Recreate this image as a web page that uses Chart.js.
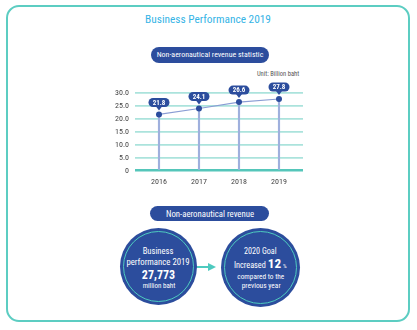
<!DOCTYPE html>
<html><head><meta charset="utf-8">
<script src="https://cdn.jsdelivr.net/npm/chart.js@4/dist/chart.umd.min.js"></script>
<style>
html,body{margin:0;padding:0;width:417px;height:330px;overflow:hidden;background:#fff;font-family:"Roboto Condensed","Roboto",sans-serif;}
.abs{position:absolute;}
#frame{left:6px;top:5px;width:404px;height:317px;border:2px solid #5ccdc2;border-radius:13px;box-sizing:border-box;}
.pill{background:#2c4d9d;border-radius:9px;}
.circle{background:#2c4d9d;border-radius:50%;}
.ring{position:absolute;left:3px;top:3px;right:3px;bottom:3px;border:1.5px solid #4ecabf;border-radius:50%;}
.t{position:absolute;white-space:nowrap;transform:translate(-50%,-50%);line-height:1;}
.w{color:#fff;}
canvas{position:absolute;left:0;top:0;}
</style>
</head><body>
<div id="frame" class="abs"></div>
<div class="abs pill" style="left:151px;top:47px;width:118px;height:16px;"></div>
<div class="abs pill" style="left:150px;top:206px;width:119px;height:15px;"></div>

<div class="abs" style="left:196px;top:266px;width:14px;height:2px;background:#4ecabf;"></div>
<div class="abs" style="left:208px;top:263px;width:0;height:0;border-top:4px solid transparent;border-bottom:4px solid transparent;border-left:8px solid #4ecabf;"></div>

<div class="abs circle" style="left:120px;top:228px;width:77px;height:77px;"><div class="ring"></div></div>
<div class="abs circle" style="left:221px;top:228px;width:79px;height:79px;"><div class="ring"></div></div>

<div class="t" data-w="126" style="left:208px;top:20px;font-size:12px;color:#36b4e6;">Business Performance 2019</div>
<div class="t w" data-w="106.6" style="left:210px;top:55px;font-size:9px;">Non-aeronautical revenue statistic</div>
<div class="t" data-w="42.3" style="left:278px;top:74px;font-size:7px;color:#555;">Unit: Billion baht</div>
<div class="t w" data-w="88" style="left:210px;top:213.5px;font-size:9px;">Non-aeronautical revenue</div>

<div class="t w" data-w="30.7" style="left:158px;top:251px;font-size:9px;">Business</div>
<div class="t w" data-w="63.3" style="left:158px;top:261.7px;font-size:9px;">performance 2019</div>
<div class="t w" data-w="33.3" style="left:158.5px;top:275px;font-size:15px;font-weight:bold;">27,773</div>
<div class="t w" data-w="32.7" style="left:159px;top:286px;font-size:7px;">million baht</div>

<div class="t w" data-w="32.7" style="left:260.3px;top:251px;font-size:9px;">2020 Goal</div>
<div class="t w" data-w="52.7" style="left:260.3px;top:264.3px;font-size:9px;">Increased <b style="font-size:1.6em;">12</b> <span style="font-size:0.7em;">%</span></div>
<div class="t w" data-w="47" style="left:260.8px;top:277.3px;font-size:7px;">compared to the</div>
<div class="t w" data-w="39" style="left:261.2px;top:285.5px;font-size:7px;">previous year</div>

<canvas id="c" width="417" height="330"></canvas>
<script>
// fit decorative texts to measured widths
document.querySelectorAll('[data-w]').forEach(el => {
  const target = parseFloat(el.dataset.w);
  const fs = parseFloat(el.style.fontSize);
  const w = el.getBoundingClientRect().width;
  el.style.fontSize = (fs * target / w).toFixed(2) + 'px';
});

const years = [2016, 2017, 2018, 2019];
const revenue = [21.8, 24.1, 26.6, 27.8];
const yTicks = [0, 5, 10, 15, 20, 25, 30];

const FONT = '"Roboto Condensed","Roboto",sans-serif';
const DARK = '#2c4d9d';

const bubbles = {
  id: 'bubbles',
  afterDatasetsDraw(chart) {
    const meta = chart.getDatasetMeta(0);
    const ctx = chart.ctx;
    ctx.save();
    meta.data.forEach((pt, i) => {
      const x = pt.x, y = pt.y;
      const w = 21, h = 9, cy = y - 12;
      ctx.fillStyle = DARK;
      ctx.beginPath();
      ctx.roundRect(x - w / 2, cy - h / 2, w, h, 4.5);
      ctx.fill();
      ctx.beginPath();
      ctx.moveTo(x - 3, cy + h / 2 - 0.5);
      ctx.lineTo(x + 3, cy + h / 2 - 0.5);
      ctx.lineTo(x, cy + h / 2 + 3.5);
      ctx.closePath();
      ctx.fill();
      ctx.fillStyle = '#fff';
      ctx.font = 'bold 7px ' + FONT;
      ctx.textAlign = 'center';
      ctx.textBaseline = 'middle';
      ctx.fillText(revenue[i].toFixed(1), x, cy + 0.5);
    });
    ctx.restore();
  }
};

new Chart(document.getElementById('c'), {
  data: {
    datasets: [
      {
        type: 'line',
        order: 0,
        data: years.map((y, i) => ({ x: y, y: revenue[i] })),
        borderColor: '#8a9dd4',
        borderWidth: 1.2,
        pointRadius: 3,
        pointBackgroundColor: DARK,
        pointBorderWidth: 0,
        tension: 0
      },
      {
        type: 'bar',
        order: 1,
        data: years.map((y, i) => ({ x: y, y: revenue[i] })),
        backgroundColor: '#9fb0dd',
        barThickness: 1.5
      }
    ]
  },
  options: {
    responsive: false,
    animation: false,
    layout: { padding: { left: 100, right: 114, top: 93.3, bottom: 139.3 } },
    plugins: { legend: { display: false }, tooltip: { enabled: false } },
    scales: {
      x: {
        type: 'linear',
        offset: false,
        min: 2015.4,
        max: 2019.6,
        afterBuildTicks: s => { s.ticks = years.map(v => ({ value: v })); },
        afterFit: s => { s.height = 20; },
        grid: { display: false, drawTicks: false, offset: false },
        border: { display: false },
        ticks: {
          autoSkip: false,
          padding: 6,
          color: '#444',
          font: { family: FONT, size: 8 },
          callback: v => String(v)
        }
      },
      y: {
        min: 0,
        max: 30,
        afterBuildTicks: s => { s.ticks = yTicks.map(v => ({ value: v })); },
        afterFit: s => { s.width = 35; },
        border: { display: false },
        grid: {
          drawTicks: false,
          color: c => c.tick && c.tick.value === 0 ? '#55c6ba' : '#abe3dc',
          lineWidth: c => c.tick && c.tick.value === 0 ? 2.5 : 1.8
        },
        ticks: {
          autoSkip: false,
          padding: 6,
          color: '#444',
          font: { family: FONT, size: 8 },
          callback: v => v === 0 ? '0' : v.toFixed(1)
        }
      }
    }
  },
  plugins: [bubbles]
});
</script>
</body></html>
